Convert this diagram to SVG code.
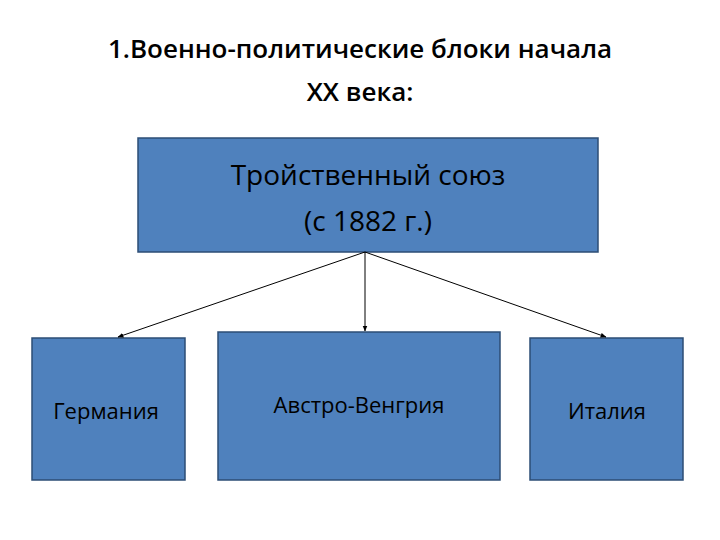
<svg xmlns="http://www.w3.org/2000/svg" width="720" height="540" viewBox="0 0 720 540">
<style>
.box{fill:#4f81bd;stroke:#2c4d75;stroke-width:1.5}
.t{font-family:"Open Sans","Liberation Sans",sans-serif;fill:#000;text-anchor:middle}
.c{stroke:#000;stroke-width:1;fill:none;marker-end:url(#a)}
</style>
<defs><marker id="a" viewBox="0 0 10 10" refX="9" refY="5" markerWidth="6" markerHeight="6" orient="auto"><path d="M0,1 L10,5 L0,9 z" fill="#000"/></marker></defs>
<rect width="720" height="540" fill="#fff"/>
<text class="t" x="360" y="58" font-size="26" font-weight="600">1.Военно-политические блоки начала</text>
<text class="t" x="360" y="101" font-size="26" font-weight="600">XX века:</text>
<g id="top"><rect class="box" x="138" y="138" width="460" height="114"/>
<text class="t" x="368" y="185" font-size="28">Тройственный союз</text>
<text class="t" x="368" y="231" font-size="28">(с 1882 г.)</text></g>
<g id="germany"><rect class="box" x="32" y="338" width="153" height="142"/>
<text class="t" x="106" y="419" font-size="22">Германия</text></g>
<g id="austria"><rect class="box" x="218" y="332" width="282" height="148"/>
<text class="t" x="359" y="413" font-size="22">Австро-Венгрия</text></g>
<g id="italy"><rect class="box" x="530" y="338" width="153" height="142"/>
<text class="t" x="607" y="419" font-size="22">Италия</text></g>
<g id="connectors">
<line class="c" x1="365" y1="252" x2="118" y2="337"/>
<line class="c" x1="365" y1="252" x2="365" y2="331"/>
<line class="c" x1="365" y1="252" x2="606" y2="337"/>
</g>
</svg>
